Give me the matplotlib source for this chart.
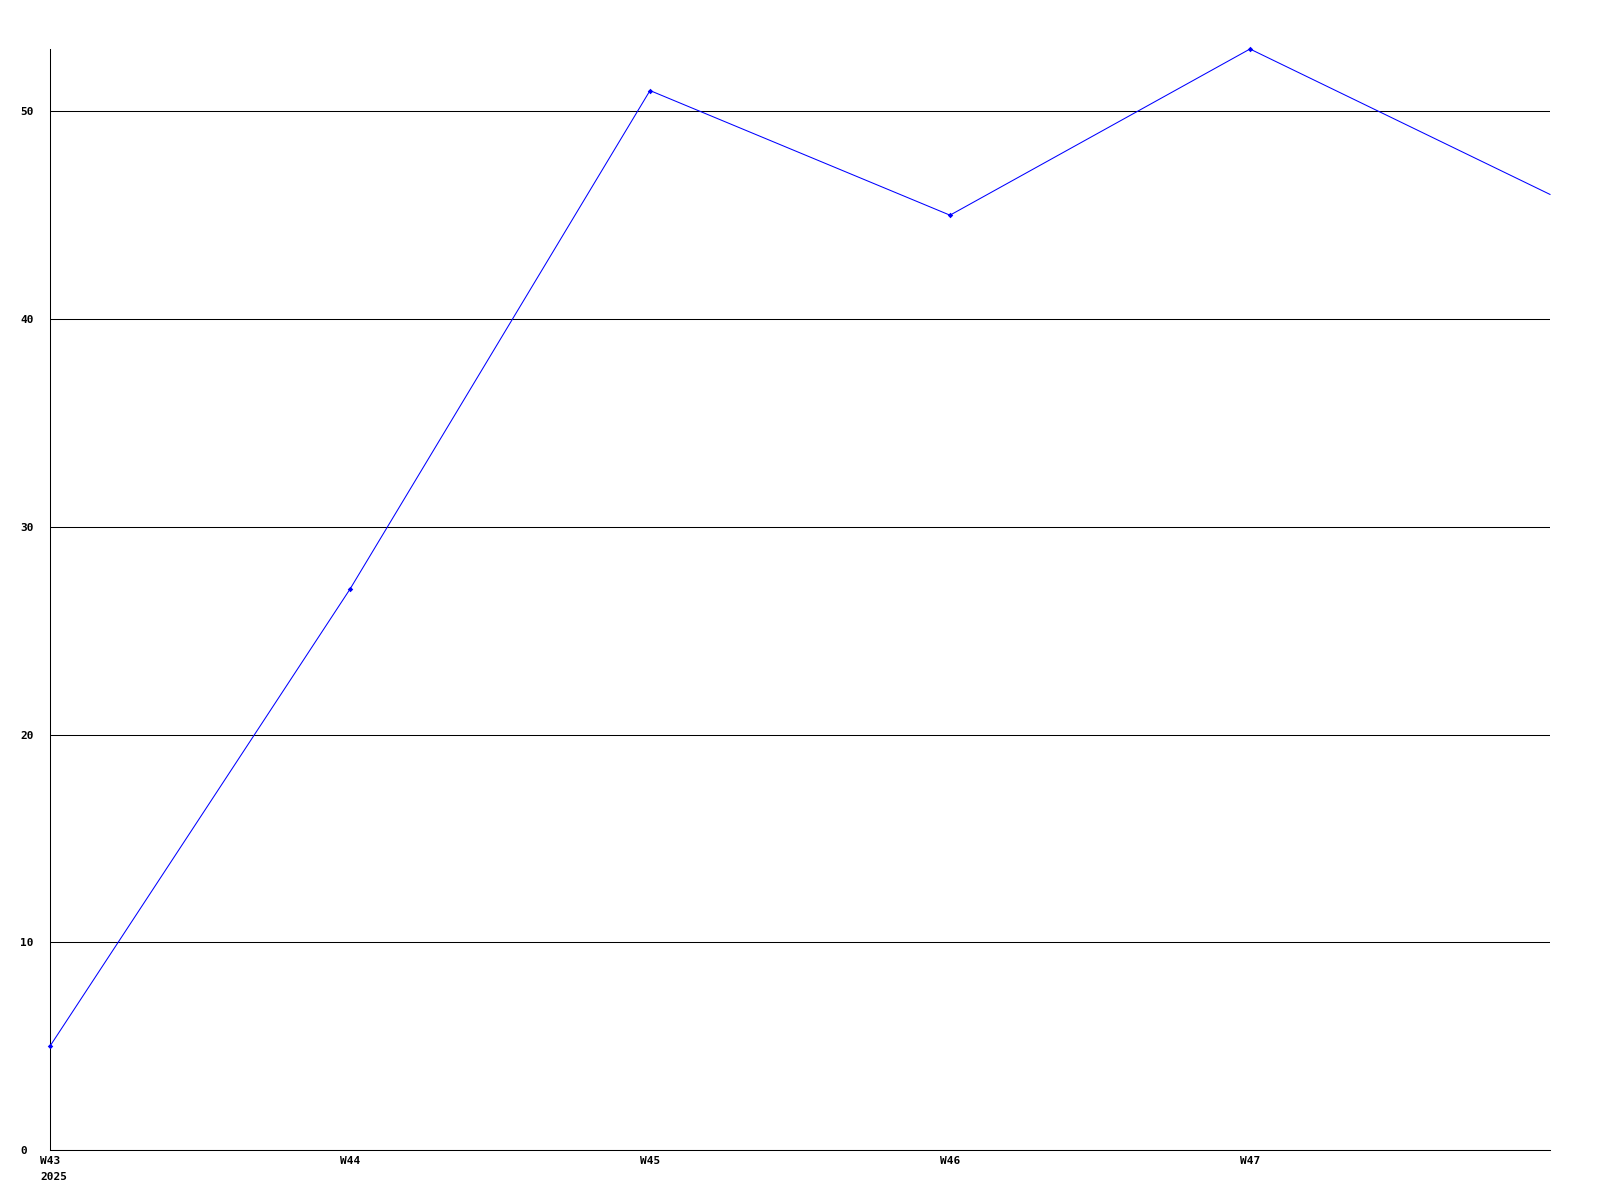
import matplotlib
matplotlib.use("Agg")
import matplotlib.pyplot as plt
from matplotlib.font_manager import FontProperties

weeks = ["W43", "W44", "W45", "W46", "W47", "W48"]
values = [5, 27, 51, 45, 53, 46]
year_label = "2025"
y_ticks = [0, 10, 20, 30, 40, 50]

fig = plt.figure(figsize=(16, 12), dpi=100)
ax = fig.add_axes([50/1600, 1 - 1150/1200, 1500/1600, (1150 - 49)/1200])

x = list(range(len(weeks)))
ax.plot(x, values, color="#0000ff", linewidth=0.75, marker="D", markersize=2.8,
        markeredgewidth=0, markevery=list(range(len(weeks) - 1)),
        zorder=3, clip_on=False)

ax.set_xlim(0, len(weeks) - 1)
ax.set_ylim(0, max(values))

ax.set_yticks(y_ticks)
ax.set_yticklabels([str(v) for v in y_ticks])
ax.set_xticks(x[:-1])
ax.set_xticklabels(weeks[:-1])

font = dict(family="DejaVu Sans Mono", weight="bold", size=8)
for lab in ax.get_yticklabels():
    lab.set_fontproperties(FontProperties(**font))
    lab.set_horizontalalignment("left")
for lab in ax.get_xticklabels():
    lab.set_fontproperties(FontProperties(**font))

ax.tick_params(axis="y", length=0, pad=30 * 72 / 100)
ax.tick_params(axis="x", length=0, pad=4)

ax.grid(axis="y", color="black", linewidth=0.75)
ax.grid(axis="x", visible=False)
ax.set_axisbelow(True)

for s in ["top", "right"]:
    ax.spines[s].set_visible(False)
for s in ["left", "bottom"]:
    ax.spines[s].set_color("black")
    ax.spines[s].set_linewidth(0.75)

ax.annotate(year_label, xy=(0, 0), xycoords="data", xytext=(-10 * 0.72, -27 * 0.72),
            textcoords="offset points", ha="left", va="center", **font)

fig.savefig("out.png", dpi=100, facecolor="white")
